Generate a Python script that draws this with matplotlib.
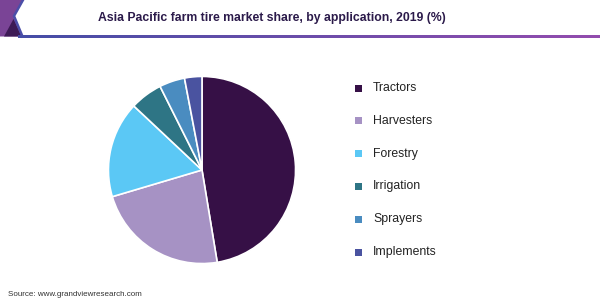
import matplotlib
matplotlib.use("Agg")
import matplotlib.pyplot as plt
import numpy as np
from matplotlib.patches import Polygon, Rectangle

categories = ["Tractors", "Harvesters", "Forestry", "Irrigation", "Sprayers", "Implements"]
shares = [47.4, 23.0, 16.6, 5.6, 4.4, 3.0]
colors = ["#361046", "#A692C4", "#5BC8F5", "#2E7585", "#4A8CC0", "#4A53A0"]
title = "Asia Pacific farm tire market share, by application, 2019 (%)"
source = "Source: www.grandviewresearch.com"

W, H = 600, 300
fig = plt.figure(figsize=(6, 3), dpi=100)
plt.rcParams['font.family'] = ['Liberation Sans', 'DejaVu Sans']

# header decoration
bg = fig.add_axes([0, 0, 1, 1])
bg.set_xlim(0, W); bg.set_ylim(H, 0); bg.axis('off')
bg.add_patch(Polygon([(0, 0), (22.5, 0), (14, 16), (22, 36.5), (0, 36.5)], closed=True,
                     facecolor="#7A4496", edgecolor="none"))
bg.add_patch(Polygon([(13.5, 19), (21.5, 36.5), (4, 36.5)], closed=True,
                     facecolor="#3D1A55", edgecolor="none"))
bg.plot([23, 14, 22.5], [0, 16, 36.5], color="#4B4EA8", lw=1.8, solid_joinstyle='miter')
# gradient line
grad = np.linspace(0, 1, 256)
c0 = np.array([0x45, 0x4E, 0xA6]) / 255
c1 = np.array([0x93, 0x4C, 0xAE]) / 255
img = (c0[None, :] * (1 - grad[:, None]) + c1[None, :] * grad[:, None])[None, :, :]
bg.imshow(img, extent=[18, 600, 38.5, 36.3], aspect='auto', interpolation='bilinear', zorder=3)
bg.set_xlim(0, W); bg.set_ylim(H, 0)

fig.text(272 / W, 1 - 18 / H, title, ha='center', va='center', fontsize=8.8,
         fontweight='bold', color="#2B1A4A")

# pie
cx, cy, r = 202, 170, 94.5
ax = fig.add_axes([(cx - r) / W, (H - cy - r) / H, 2 * r / W, 2 * r / H])
ax.pie(shares, colors=colors, startangle=90, counterclock=False, radius=1,
       wedgeprops=dict(edgecolor='white', linewidth=1.2))
ax.set_xlim(-1.01, 1.01); ax.set_ylim(-1.01, 1.01)
ax.set_aspect('equal')

# legend
y0, dy = 88, 32.8
for i, (cat, col) in enumerate(zip(categories, colors)):
    y = y0 + i * dy
    bg.add_patch(Rectangle((355, y - 3.5), 7, 7, facecolor=col, edgecolor='none'))
    bg.text(373, y, cat, ha='left', va='center', fontsize=8.8, color="#222222")

bg.text(8, 294, source, ha='left', va='center', fontsize=5.8, color="#333333")

fig.savefig("out.png", dpi=100)
